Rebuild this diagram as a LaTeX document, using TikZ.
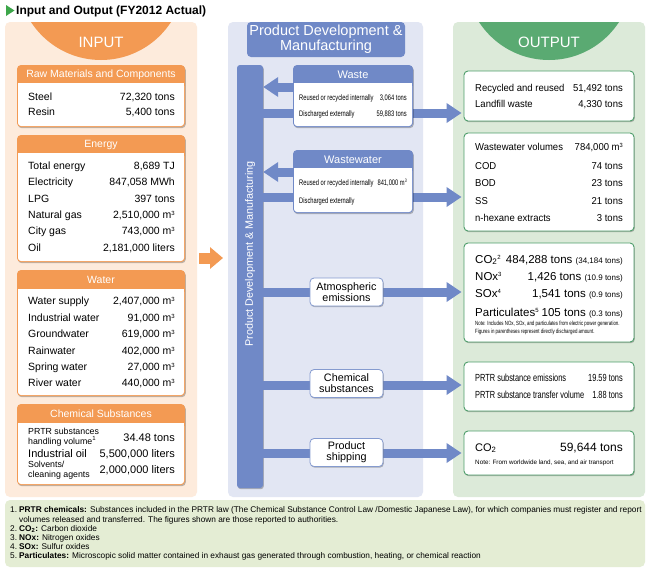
\documentclass[tikz,border=0pt]{standalone}
\usepackage{fontspec}
\setmainfont{Liberation Sans}
\newfontfamily\condfont[FakeStretch=0.72]{Liberation Sans}
\newfontfamily\narrowfont[FakeStretch=0.95]{Liberation Sans}
\usetikzlibrary{arrows.meta,shadows}
\definecolor{inorange}{HTML}{F39A53}
\definecolor{inbg}{HTML}{FDEBDC}
\definecolor{pdblue}{HTML}{7089C7}
\definecolor{pdbg}{HTML}{E2E6F3}
\definecolor{outgreen}{HTML}{5AAA72}
\definecolor{outedge}{HTML}{4E9E6B}
\definecolor{outbg}{HTML}{DCEAD9}
\definecolor{notebg}{HTML}{E4EDD4}
\definecolor{titlegreen}{HTML}{3DA64A}
\newcommand{\supmark}[1]{\raisebox{3.6pt}{\fontsize{6}{6}\selectfont #1}}
\newcommand{\cubicm}{m\supmark{3}}
\tikzset{
  panel/.style={rounded corners=5pt, inner sep=0pt, draw=none},
  card/.style={rounded corners=4pt, inner sep=0pt,
    drop shadow={shadow xshift=0.8pt, shadow yshift=-1.2pt, opacity=0.25, fill=black}},
  incard/.style={card, fill=inorange, minimum width=168},
  pdcard/.style={card, fill=pdblue, minimum width=120},
  smallcard/.style={card, fill=white, draw=pdblue!85, line width=0.8pt, minimum width=73,
    minimum height=28, align=center, font=\fontsize{10.8}{11}\selectfont},
  outcard/.style={card, fill=white, draw=outedge, line width=0.9pt, minimum width=170},
  head/.style={text=white, inner sep=0pt, font=\fontsize{10.5}{12}\selectfont},
  row/.style={inner sep=0pt, font=\fontsize{10.5}{12}\selectfont},
  orow/.style={inner sep=0pt, font=\narrowfont\fontsize{10}{12}\selectfont},
  crow/.style={inner sep=0pt, font=\condfont\fontsize{8}{9}\selectfont},
  prow/.style={inner sep=0pt, font=\condfont\fontsize{10.3}{12}\selectfont},
  bigrow/.style={inner sep=0pt, font=\fontsize{11.5}{12}\selectfont},
  fnote/.style={inner sep=0pt, font=\fontsize{8.3}{9}\selectfont},
  flow/.style={draw=pdblue, line width=9pt, -{Triangle[length=15pt, width=19pt]}}
}
\begin{document}
\begin{tikzpicture}[x=1pt, y=-1pt, line join=round]
\useasboundingbox[fill=white] (0,0) rectangle (650,573);

% title
\fill[titlegreen] (6,5) -- (14.5,10.5) -- (6,16) -- cycle;
\node[anchor=west, inner sep=0pt, font=\bfseries\fontsize{12}{14}\selectfont] (title) at (16,11) {Input and Output (FY2012 Actual)};

% panels
\node[panel, fill=inbg, minimum width=192, minimum height=475] (inpanel) at (101,259.5) {};
\node[panel, fill=pdbg, minimum width=195, minimum height=475] (pdpanel) at (325.5,259.5) {};
\node[panel, fill=outbg, minimum width=192, minimum height=475] (outpanel) at (549,259.5) {};
\node[panel, fill=notebg, minimum width=640, minimum height=67] (notes) at (325,533.5) {};

% half discs
\begin{scope}
\clip[rounded corners=5pt] (5,22) rectangle (197,497);
\fill[inorange] (101,-23.5) circle (83.5pt);
\end{scope}
\begin{scope}
\clip[rounded corners=5pt] (453,22) rectangle (645,497);
\fill[outgreen] (549,-23.5) circle (83.5pt);
\end{scope}
\node[text=white, inner sep=0pt, font=\fontsize{15}{16}\selectfont] (inlabel) at (101,42) {INPUT};
\node[text=white, inner sep=0pt, font=\fontsize{15}{16}\selectfont] (outlabel) at (549,42) {OUTPUT};

% input cards
\foreach \n/\t/\b/\h/\title in {raw/65/127/83/Raw Materials and Components, energy/135/262/153/Energy,
  water/270/396/289/Water, chem/404/485/423/Chemical Substances}{
  \node[incard, minimum height=\b-\t] (\n) at (101,{(\t+\b)/2}) {};
  \fill[white, rounded corners=3pt] (18,\h) rectangle (184,\b-1);
  \fill[white] (18,\h) rectangle (184,\h+6);
  \node[head] (\n head) at (101,{(\t+\h)/2+0.5}) {\title};
}
\foreach \y/\l/\r [count=\i] in {97/Steel/{72,320 tons}, 112/Resin/{5,400 tons}}{
  \node[row, anchor=base west] (raw l\i) at (28,\y+3.8) {\l};
  \node[row, anchor=base east] (raw r\i) at (175,\y+3.8) {\r};
}
\foreach \y/\l/\r [count=\i] in {166/Total energy/{8,689 TJ}, 182/Electricity/{847,058 MWh},
  199/LPG/{397 tons}, 215/Natural gas/{2,510,000 \cubicm},
  231/City gas/{743,000 \cubicm}, 248/Oil/{2,181,000 liters}}{
  \node[row, anchor=base west] (energy l\i) at (28,\y+3.8) {\l};
  \node[row, anchor=base east] (energy r\i) at (175,\y+3.8) {\r};
}
\foreach \y/\l/\r [count=\i] in {301/Water supply/{2,407,000 \cubicm},
  318/Industrial water/{91,000 \cubicm}, 334/Groundwater/{619,000 \cubicm},
  351/Rainwater/{402,000 \cubicm}, 367/Spring water/{27,000 \cubicm},
  383/River water/{440,000 \cubicm}}{
  \node[row, anchor=base west] (water l\i) at (28,\y+3.8) {\l};
  \node[row, anchor=base east] (water r\i) at (175,\y+3.8) {\r};
}
\node[inner sep=0pt, anchor=west, align=left, font=\fontsize{8.8}{9.8}\selectfont] (chem l1) at (28,437) {PRTR substances\\handling volume\supmark{1}};
\node[row, anchor=base east, font=\fontsize{11}{12}\selectfont] (chem r1) at (175,441) {34.48 tons};
\node[row, anchor=base west, font=\fontsize{11}{12}\selectfont] (chem l2) at (28,457) {Industrial oil};
\node[row, anchor=base east, font=\fontsize{11}{12}\selectfont] (chem r2) at (175,457) {5,500,000 liters};
\node[inner sep=0pt, anchor=west, align=left, font=\fontsize{8.8}{9.8}\selectfont] (chem l3) at (28,470) {Solvents/\\cleaning agents};
\node[row, anchor=base east, font=\fontsize{11}{12}\selectfont] (chem r3) at (175,473) {2,000,000 liters};

% input arrow
\coordinate (intip) at (223,258);
\draw[inorange, line width=11pt, -{Triangle[length=13pt, width=21pt]}] ([xshift=2pt]inpanel.east |- intip) -- (intip);

% output cards
\node[outcard, minimum height=50] (outwaste) at (549,96) {};
\node[outcard, minimum height=98] (outwater) at (549,182) {};
\node[outcard, minimum height=99] (outair) at (549,292.5) {};
\node[outcard, minimum height=49] (outchem) at (549,386.5) {};
\node[outcard, minimum height=44] (outship) at (549,453) {};

% product development and manufacturing
\node[fill=pdblue, rounded corners=4pt, minimum width=158, minimum height=35, inner sep=0pt, text=white,
  align=center, font=\fontsize{14.5}{15}\selectfont] (pdtitle) at (326,39.5) {Product Development \&\\Manufacturing};
\node[card, fill=pdblue, rounded corners=3pt, minimum width=26, minimum height=423] (pdbar) at (250,276.5) {};
\node[rotate=90, text=white, inner sep=0pt, font=\fontsize{10.8}{12}\selectfont] (pdbarlabel) at (250,254) {Product Development \& Manufacturing};

% flows
\foreach \n/\y/\o in {lwaste/113/outwaste, lwater/197/outwater, lair/292/outair, lchem/385/outchem, lship/453/outship}{
  \coordinate (\n) at (0,\y);
  \draw[flow] (pdbar.east |- \n) -- ([xshift=-2pt]\o.west |- \n);
}

% process cards
\node[pdcard, minimum height=62] (waste) at (353,96) {};
\fill[white, rounded corners=3pt] (294,83) rectangle (412,126);
\fill[white] (294,83) rectangle (412,89);
\node[head, font=\fontsize{11}{12}\selectfont] (waste head) at (353,74.5) {Waste};
\node[pdcard, minimum height=63] (wastewater) at (353,181.5) {};
\fill[white, rounded corners=3pt] (294,168) rectangle (412,212);
\fill[white] (294,168) rectangle (412,174);
\node[head, font=\fontsize{11}{12}\selectfont] (wastewater head) at (353,159.5) {Wastewater};
\node[smallcard] (air) at (346.5,292) {Atmospheric\\emissions};
\node[smallcard] (chemicals) at (346.5,383.5) {Chemical\\substances};
\node[smallcard] (shipping) at (346.5,452.5) {Product\\shipping};

\coordinate (rwaste) at (0,87);
\coordinate (rwater) at (0,172);
\draw[flow] (waste.west |- rwaste) -- (pdbar.east |- rwaste);
\draw[flow] (wastewater.west |- rwater) -- (pdbar.east |- rwater);

\node[crow, anchor=base west] (waste l1) at (299,100) {Reused or recycled internally};
\node[crow, anchor=base east] (waste r1) at (407,100) {3,064 tons};
\node[crow, anchor=base west] (waste l2) at (299,116) {Discharged externally};
\node[crow, anchor=base east] (waste r2) at (407,116) {59,883 tons};
\node[crow, anchor=base west] (wastewater l1) at (299,185) {Reused or recycled internally};
\node[crow, anchor=base east] (wastewater r1) at (407,185) {841,000 m\raisebox{3pt}{\fontsize{5}{5}\selectfont 3}};
\node[crow, anchor=base west] (wastewater l2) at (299,203) {Discharged externally};

% output texts
\foreach \y/\l/\r [count=\i] in {88/Recycled and reused/{51,492 tons}, 104/Landfill waste/{4,330 tons}}{
  \node[orow, anchor=base west] (outwaste l\i) at (475,\y+3.6) {\l};
  \node[orow, anchor=base east] (outwaste r\i) at (623,\y+3.6) {\r};
}
\foreach \y/\l/\r [count=\i] in {147/Wastewater volumes/{784,000 \cubicm}, 166/COD/{74 tons},
  183/BOD/{23 tons}, 201/SS/{21 tons}, 218/n-hexane extracts/{3 tons}}{
  \node[orow, anchor=base west] (outwater l\i) at (475,\y+3.6) {\l};
  \node[orow, anchor=base east] (outwater r\i) at (623,\y+3.6) {\r};
}
\foreach \y/\l/\r/\p [count=\i] in {259/CO\textsubscript{2}\supmark{2}/{484,288 tons}/{34,184 tons},
  276/NOx\supmark{3}/{1,426 tons}/{10.9 tons}, 293/SOx\supmark{4}/{1,541 tons}/{0.9 tons},
  312/Particulates\supmark{5}/{105 tons}/{0.3 tons}}{
  \node[bigrow, anchor=base west] (outair l\i) at (475,\y+4) {\l};
  \node[bigrow, anchor=base east] (outair r\i) at (623,\y+4) {\r\ {\fontsize{8}{9}\selectfont(\p)}};
}
\node[inner sep=0pt, anchor=west, align=left, font=\condfont\fontsize{6.1}{8.5}\selectfont] (outair note) at (475,328)
  {Note: Includes NOx, SOx, and particulates from electric power generation.\\Figures in parentheses represent directly discharged amount.};
\node[prow, anchor=base west] (outchem l1) at (475,381) {PRTR substance emissions};
\node[prow, anchor=base east] (outchem r1) at (623,381) {19.59 tons};
\node[prow, anchor=base west] (outchem l2) at (475,398) {PRTR substance transfer volume};
\node[prow, anchor=base east] (outchem r2) at (623,398) {1.88 tons};
\node[bigrow, anchor=base west, font=\fontsize{11}{12}\selectfont] (outship l1) at (475,451) {CO\textsubscript{2}};
\node[bigrow, anchor=base east, font=\fontsize{12}{12}\selectfont] (outship r1) at (623,451.5) {59,644 tons};
\node[inner sep=0pt, anchor=base west, font=\fontsize{6.3}{7}\selectfont] (outship note) at (475,464) {Note: From worldwide land, sea, and air transport};

% footnotes
\foreach \y/\k/\t [count=\i] in {510/1./{\textbf{PRTR chemicals:} Substances included in the PRTR law (The Chemical Substance Control Law /Domestic Japanese Law), for which companies must register and report},
  528.5/2./{\textbf{CO\textsubscript{2}:} Carbon dioxide}, 537.5/3./{\textbf{NOx:} Nitrogen oxides},
  546.5/4./{\textbf{SOx:} Sulfur oxides},
  556/5./{\textbf{Particulates:} Microscopic solid matter contained in exhaust gas generated through combustion, heating, or chemical reaction}}{
  \node[fnote, anchor=base west] (note k\i) at (10,\y+2.8) {\k};
  \node[fnote, anchor=base west] (note t\i) at (19,\y+2.8) {\t};
}
\node[fnote, anchor=base west] (note t1b) at (19,522.3) {volumes released and transferred. The figures shown are those reported to authorities.};
\end{tikzpicture}
\end{document}
